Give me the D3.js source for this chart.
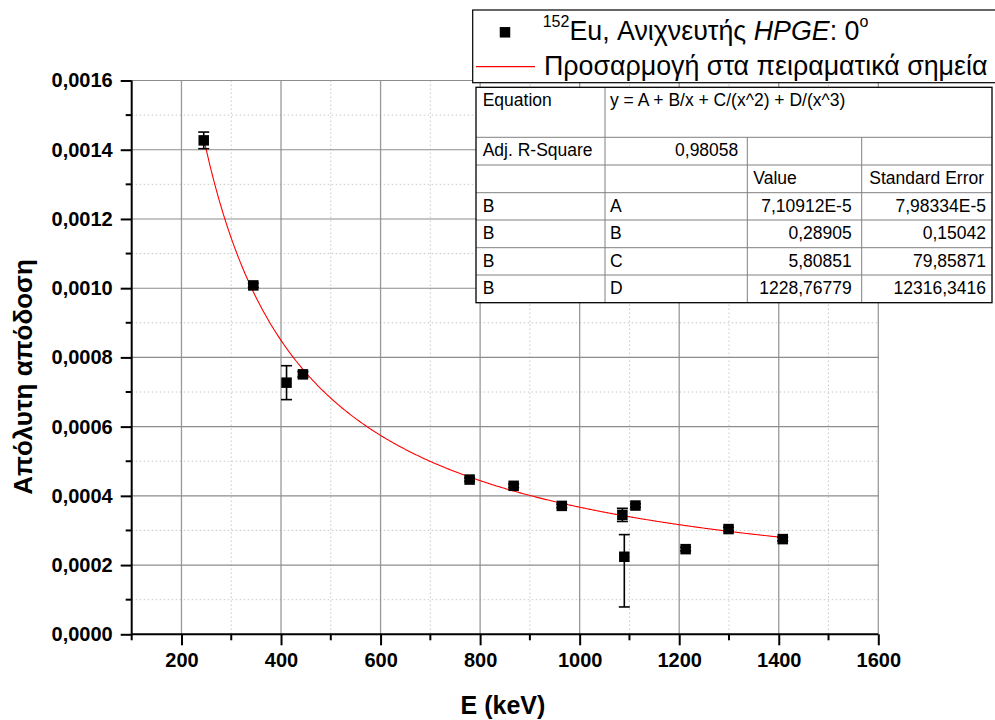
<!DOCTYPE html>
<html>
<head>
<meta charset="utf-8">
<script src="https://cdn.jsdelivr.net/npm/d3@7"></script>
<style>
  html, body { margin: 0; padding: 0; background: #fff; }
  svg { display: block; font-family: "Liberation Sans", Arial, sans-serif; }
</style>
</head>
<body>
<svg id="chart" width="995" height="720"></svg>
<script>
// ---------- data ----------
const energies   = [244.7, 344.3, 411.1, 444.0, 778.9, 867.4, 964.1, 1085.8, 1089.7, 1112.1, 1212.9, 1299.1, 1408.0];
const efficiency = [0.001427, 0.001008, 0.000727, 0.000751, 0.000447, 0.000429, 0.000371, 0.000345, 0.000224, 0.000372, 0.000246, 0.000304, 0.000275];
const errPlus    = [0.000024, 0.000006, 0.000049, 0.000008, 0.000005, 0.000005, 0.000005, 0.000019, 0.000064, 0.000005, 0.000005, 0.000005, 0.000005];
const errMinus   = [0.000024, 0.000006, 0.000049, 0.000008, 0.000005, 0.000005, 0.000005, 0.000019, 0.000145, 0.000005, 0.000005, 0.000005, 0.000005];

// fit parameters y = A + B/x + C/x^2 + D/x^3 (from the table)
const fitParams = { A: 7.10912E-5, B: 0.28905, C: 5.80851, D: 1228.76779 };
const fitRange  = [244.7, 1408.0];

const xTicks = [200, 400, 600, 800, 1000, 1200, 1400, 1600];
const xMinor = [100, 300, 500, 700, 900, 1100, 1300, 1500];
const yTicks = [0, 0.0002, 0.0004, 0.0006, 0.0008, 0.0010, 0.0012, 0.0014, 0.0016];
const yMinor = [0.0001, 0.0003, 0.0005, 0.0007, 0.0009, 0.0011, 0.0013, 0.0015];

const xTitle = "E (keV)";
const yTitle = "Απόλυτη απόδοση";
const legendFit = "Προσαρμογή στα πειραματικά σημεία";

const tableRows = [
  ["B", "A", "7,10912E-5", "7,98334E-5"],
  ["B", "B", "0,28905", "0,15042"],
  ["B", "C", "5,80851", "79,85871"],
  ["B", "D", "1228,76779", "12316,3416"]
];
const equationText = "y = A + B/x + C/(x^2) + D/(x^3)";
const adjR2 = "0,98058";

// ---------- layout ----------
const svg = d3.select("#chart");
const L = 131.7, R = 878.3, T = 80.5, B = 634.3;
const x = d3.scaleLinear().domain([100, 1600]).range([L, R]);
const y = d3.scaleLinear().domain([0, 0.0016]).range([B, T]);

// grid
const grid = svg.append("g");
grid.selectAll(".vminor").data(xMinor.filter(d => d > 100)).join("line")
  .attr("x1", d => x(d)).attr("x2", d => x(d)).attr("y1", T).attr("y2", B)
  .attr("stroke", "#c8c8c8").attr("stroke-width", 1).attr("stroke-dasharray", "1.5,2.5");
grid.selectAll(".hminor").data(yMinor).join("line")
  .attr("x1", L).attr("x2", R).attr("y1", d => y(d)).attr("y2", d => y(d))
  .attr("stroke", "#c8c8c8").attr("stroke-width", 1).attr("stroke-dasharray", "1.5,2.5");
grid.selectAll(".vmajor").data(xTicks).join("line")
  .attr("x1", d => x(d)).attr("x2", d => x(d)).attr("y1", T).attr("y2", B)
  .attr("stroke", "#999").attr("stroke-width", 1.3);
grid.selectAll(".hmajor").data(yTicks.filter(d => d > 0)).join("line")
  .attr("x1", L).attr("x2", R).attr("y1", d => y(d)).attr("y2", d => y(d))
  .attr("stroke", "#8c8c8c").attr("stroke-width", 1.1);

// fit curve
const fitX = d3.range(fitRange[0], fitRange[1], 2).concat([fitRange[1]]);
const fitF = v => fitParams.A + fitParams.B / v + fitParams.C / (v * v) + fitParams.D / (v * v * v);
svg.append("path")
  .datum(fitX)
  .attr("fill", "none").attr("stroke", "#ff0000").attr("stroke-width", 1.1)
  .attr("d", d3.line().x(d => x(d)).y(d => y(fitF(d))));

// error bars
const pts = energies.map((e, i) => ({ e, v: efficiency[i], p: errPlus[i], m: errMinus[i] }));
const eb = svg.append("g").attr("stroke", "#000").attr("stroke-width", 1.6);
pts.forEach(d => {
  eb.append("line").attr("x1", x(d.e)).attr("x2", x(d.e)).attr("y1", y(d.v + d.p)).attr("y2", y(d.v - d.m));
  eb.append("line").attr("x1", x(d.e) - 5.5).attr("x2", x(d.e) + 5.5).attr("y1", y(d.v + d.p)).attr("y2", y(d.v + d.p));
  eb.append("line").attr("x1", x(d.e) - 5.5).attr("x2", x(d.e) + 5.5).attr("y1", y(d.v - d.m)).attr("y2", y(d.v - d.m));
});

// markers
const ms = 10.5;
svg.append("g").selectAll("rect").data(pts).join("rect")
  .attr("x", d => x(d.e) - ms / 2).attr("y", d => y(d.v) - ms / 2)
  .attr("width", ms).attr("height", ms).attr("fill", "#000");

// axes
const fmtY = d => d3.format(".4f")(d).replace(".", ",");
const xAxis = d3.axisBottom(x).tickValues(xTicks).tickSize(11).tickPadding(8).tickFormat(d3.format("d"));
const gx = svg.append("g").attr("transform", `translate(0,${B})`).call(xAxis);
gx.select(".domain").attr("d", `M${L},0H${R}`).attr("stroke-width", 2);
gx.selectAll(".tick line").attr("stroke-width", 2);
gx.selectAll(".tick text").attr("font-size", 20).attr("font-weight", "bold").attr("fill", "#000")
  .attr("font-family", "Liberation Sans, Arial, sans-serif");
gx.selectAll(".xm").data(xMinor).join("line")
  .attr("x1", d => x(d)).attr("x2", d => x(d)).attr("y1", 0).attr("y2", 6)
  .attr("stroke", "#000").attr("stroke-width", 2);

const yAxis = d3.axisLeft(y).tickValues(yTicks).tickSize(11).tickPadding(8).tickFormat(fmtY);
const gy = svg.append("g").attr("transform", `translate(${L},0)`).call(yAxis);
gy.select(".domain").attr("d", `M0,${T}V${B}`).attr("stroke-width", 2);
gy.selectAll(".tick line").attr("stroke-width", 2);
gy.selectAll(".tick text").attr("font-size", 20).attr("font-weight", "bold").attr("fill", "#000")
  .attr("font-family", "Liberation Sans, Arial, sans-serif");
gy.selectAll(".ym").data(yMinor).join("line")
  .attr("x1", -6).attr("x2", 0).attr("y1", d => y(d)).attr("y2", d => y(d))
  .attr("stroke", "#000").attr("stroke-width", 2);

// axis titles
svg.append("text").attr("x", 503).attr("y", 714).attr("text-anchor", "middle")
  .attr("font-size", 25).attr("font-weight", "bold").text(xTitle);
svg.append("text").attr("transform", "translate(32,377) rotate(-90)").attr("text-anchor", "middle")
  .attr("font-size", 26).attr("font-weight", "bold").text(yTitle);

// legend box
const lg = svg.append("g");
lg.append("rect").attr("x", 472.7).attr("y", 10).attr("width", 540).attr("height", 72.7)
  .attr("fill", "#fff").attr("stroke", "#000").attr("stroke-width", 1.2);
lg.append("rect").attr("x", 505 - 5.25).attr("y", 32.3 - 5.25).attr("width", 10.5).attr("height", 10.5).attr("fill", "#000");
const t1 = lg.append("text").attr("x", 542.7).attr("y", 40).attr("font-size", 26.8);
t1.append("tspan").attr("font-size", 16).attr("dy", -13).text("152");
t1.append("tspan").attr("dy", 13).text("Eu, Ανιχνευτής ");
t1.append("tspan").attr("font-style", "italic").text("HPGE");
t1.append("tspan").text(": 0");
t1.append("tspan").attr("font-size", 16).attr("dy", -13).text("o");
lg.append("line").attr("x1", 476).attr("x2", 535).attr("y1", 66.7).attr("y2", 66.7)
  .attr("stroke", "#ff0000").attr("stroke-width", 1.2);
lg.append("text").attr("x", 544).attr("y", 75).attr("font-size", 26.8).text(legendFit);

// table
const tb = svg.append("g").attr("font-size", 17.5);
const tL = 476, tR = 992, c1 = 605, c2 = 747.3, c3 = 861.7;
const rowY = [87.3, 137.3, 165, 192.7, 220, 247.7, 275, 302.7];
tb.append("rect").attr("x", tL).attr("y", rowY[0]).attr("width", tR - tL).attr("height", rowY[7] - rowY[0])
  .attr("fill", "#fff");
const inner = tb.append("g").attr("stroke", "#808080").attr("stroke-width", 1);
rowY.slice(1, 7).forEach(ry => inner.append("line").attr("x1", tL).attr("x2", tR).attr("y1", ry).attr("y2", ry));
inner.append("line").attr("x1", c1).attr("x2", c1).attr("y1", rowY[0]).attr("y2", rowY[7]);
[c2, c3].forEach(cx => inner.append("line").attr("x1", cx).attr("x2", cx).attr("y1", rowY[1]).attr("y2", rowY[7]));
tb.append("rect").attr("x", tL).attr("y", rowY[0]).attr("width", tR - tL).attr("height", rowY[7] - rowY[0])
  .attr("fill", "none").attr("stroke", "#000").attr("stroke-width", 1.3);

tb.append("text").attr("x", tL + 6.7).attr("y", 106).text("Equation");
tb.append("text").attr("x", c1 + 5).attr("y", 106).text(equationText);
tb.append("text").attr("x", tL + 6.7).attr("y", 155.5).text("Adj. R-Square");
tb.append("text").attr("x", c2 - 9).attr("y", 155.5).attr("text-anchor", "end").text(adjR2);
tb.append("text").attr("x", c2 + 6).attr("y", 184).text("Value");
tb.append("text").attr("x", c3 + 7.6).attr("y", 184).text("Standard Error");
const baseRows = [211.7, 239.3, 266.7, 294.3];
tableRows.forEach((r, i) => {
  tb.append("text").attr("x", tL + 6.7).attr("y", baseRows[i]).text(r[0]);
  tb.append("text").attr("x", c1 + 5).attr("y", baseRows[i]).text(r[1]);
  tb.append("text").attr("x", c3 - 10).attr("y", baseRows[i]).attr("text-anchor", "end").text(r[2]);
  tb.append("text").attr("x", tR - 6).attr("y", baseRows[i]).attr("text-anchor", "end").text(r[3]);
});
</script>
</body>
</html>
